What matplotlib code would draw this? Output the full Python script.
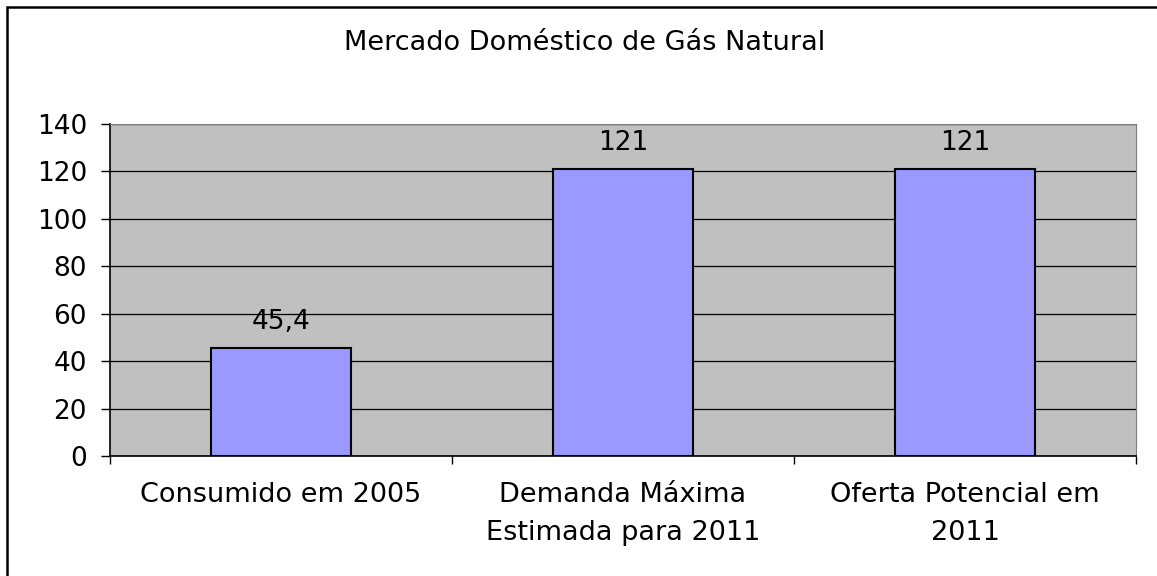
import numpy as np
import matplotlib.pyplot as plt
from matplotlib.patches import Rectangle

categorias = ['Consumido em 2005', 'Demanda Máxima\nEstimada para 2011', 'Oferta Potencial em\n2011']
valores = [45.4, 121, 121]
rotulos = ['45,4', '121', '121']
yticks = [0, 20, 40, 60, 80, 100, 120, 140]

W, H = 1157, 576
fig = plt.figure(figsize=(W / 100, H / 100), dpi=100)
ax = fig.add_axes([110 / W, 1 - 456 / H, (1136 - 110) / W, (456 - 124) / H])
ax.set_facecolor('#C0C0C0')

x = np.arange(len(categorias))
ax.bar(x, valores, width=0.41, color='#9999FF', edgecolor='black', linewidth=1.5, zorder=3)

for xi, v, r in zip(x, valores, rotulos):
    ax.annotate(r, (xi, v), xytext=(0, 14), textcoords='offset points',
                ha='center', va='baseline', fontsize=19)

ax.set_xlim(-0.5, len(categorias) - 0.5)
ax.set_ylim(0, 140)
ax.set_yticks(yticks)
ax.set_yticklabels([str(t) for t in yticks], fontsize=19)
ax.yaxis.grid(True, color='black', linewidth=0.9, zorder=1)
ax.set_axisbelow(True)

ax.set_xticks(x)
ax.set_xticklabels(categorias, fontsize=19.5, linespacing=1.6)
ax.set_xticks(np.arange(-0.5, len(categorias)), minor=True)
ax.tick_params(axis='x', which='major', length=0, pad=19)
ax.tick_params(axis='x', which='minor', length=6, width=1, color='black', direction='out')
ax.tick_params(axis='y', length=6.5, width=1, pad=10)

ax.spines['left'].set_color('black')
ax.spines['bottom'].set_color('black')
ax.spines['left'].set_linewidth(1.2)
ax.spines['bottom'].set_linewidth(1.2)
ax.spines['top'].set_color('#808080')
ax.spines['right'].set_color('#808080')

fig.text(585 / W, 1 - 43 / H, 'Mercado Doméstico de Gás Natural', ha='center', va='center', fontsize=19.5)

fig.patches.append(Rectangle((7 / W, -0.1), 1.2, 1 - 7 / H + 0.1, transform=fig.transFigure,
                             fill=False, edgecolor='black', linewidth=1.8))

fig.savefig('out.png', dpi=100)
